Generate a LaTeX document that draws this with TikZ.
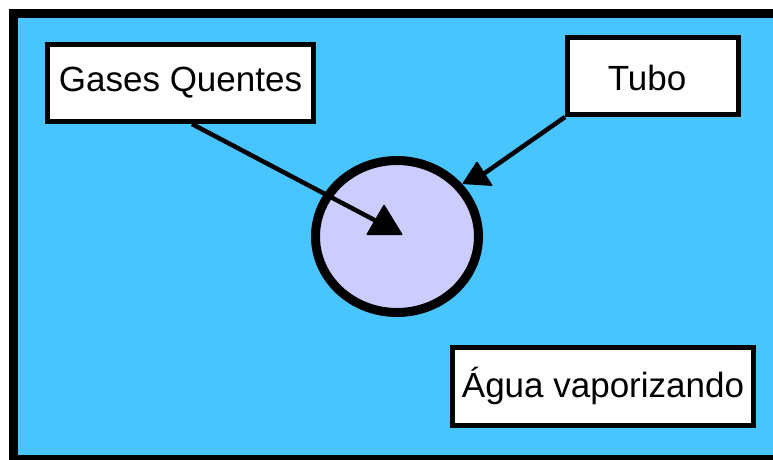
\documentclass[tikz,border=0pt]{standalone}
\usepackage{fontspec}
\setmainfont{Liberation Sans}
\usetikzlibrary{shapes.geometric,calc}
\definecolor{water}{RGB}{72,196,255}
\definecolor{tube}{RGB}{204,204,255}
\tikzset{
  labelbox/.style={draw=black, fill=white, line width=5pt, inner sep=0pt,
    font=\fontsize{35}{40}\selectfont, text height=24pt, text depth=8pt},
  conn/.style={draw=black, line width=4.5pt},
  tubeshape/.style={ellipse, draw=black, fill=tube, line width=9pt, inner sep=0pt,
    minimum width=163pt, minimum height=152pt}
}
\begin{document}
\begin{tikzpicture}[x=1pt, y=-1pt]
\useasboundingbox (0,0) rectangle (773,459);
\fill[white] (0,0) rectangle (773,459);
\begin{scope}
\clip (0,0) rectangle (773,459);
\draw[fill=water, line width=9pt] (13.5,13.5) rectangle (800,459.5);
\end{scope}
\node[tubeshape] (tubo) at (397,236.5) {};
\node[labelbox, minimum width=266pt, minimum height=77pt] (gq) at (180.5,83) {Gases Quentes};
\node[labelbox, minimum width=171pt, minimum height=77pt, text height=28pt, text depth=0pt] (tb) at (653,76) {\hspace*{-6pt}Tubo\hspace*{6pt}};
\node[labelbox, minimum width=301pt, minimum height=78pt, text height=24pt, text depth=3pt] (ag) at (603,386.5) {Água vaporizando};
\coordinate (h1) at (382,224);
\coordinate (h2) at (482,175);
\draw[conn] ($(gq.south)+(11.5,0)$) -- (h1);
\draw[conn] (tb.south west) -- (h2);
\fill[black, rounded corners=1pt] (384,204) -- (366,235) -- (403,235) -- cycle;
\fill[black, rounded corners=1pt] (477,161) -- (462,184) -- (493,186) -- cycle;
\end{tikzpicture}
\end{document}
